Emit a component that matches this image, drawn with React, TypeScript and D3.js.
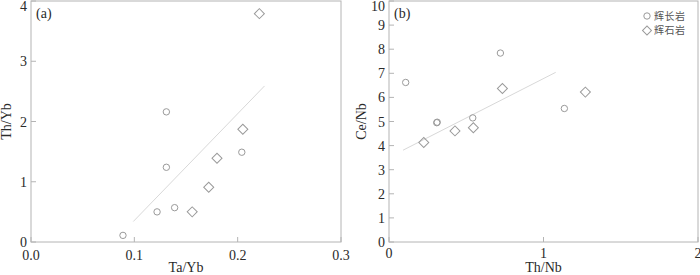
import React, { useEffect, useRef } from 'react';
import * as d3 from 'd3';

// panel (a): Th/Yb vs Ta/Yb
const gabbroA: [number, number][] = [
  [0.089, 0.11], [0.122, 0.5], [0.139, 0.57], [0.131, 1.24], [0.131, 2.16], [0.204, 1.49]
];
const pyroxeniteA: [number, number][] = [
  [0.156, 0.5], [0.172, 0.91], [0.18, 1.39], [0.205, 1.87], [0.221, 3.79]
];
const trendA: [number, number][] = [[0.099, 0.34], [0.226, 2.59]];
const xTicksA = [0, 0.1, 0.2, 0.3];
const yTicksA = [0, 1, 2, 3, 4];

// panel (b): Ce/Nb vs Th/Nb
const gabbroB: [number, number][] = [
  [0.108, 6.62], [0.309, 4.95], [0.312, 4.97], [0.542, 5.15], [0.721, 7.84], [1.135, 5.54]
];
const pyroxeniteB: [number, number][] = [
  [0.225, 4.13], [0.427, 4.61], [0.546, 4.74], [0.734, 6.37], [1.271, 6.22]
];
const trendB: [number, number][] = [[0.091, 3.81], [1.079, 7.04]];
const xTicksB = [0, 1, 2];
const yTicksB = [0, 1, 2, 3, 4, 5, 6, 7, 8, 9, 10];

const legendItems = [
  { label: '辉长岩', shape: 'circle' },
  { label: '辉石岩', shape: 'diamond' }
];

const FONT = '"Liberation Serif", "Times New Roman", serif';
const FRAME = '#b4b4b4';
const MARK = '#9a9a9a';
const TEXT = '#2a2a2a';

function drawPanel(svg: any, opt: any) {
  const { left, right, top, bottom, xDomain, yDomain, xTicks, yTicks, xFmt, xLabelDy, tag, xTitle, yTitle, yTitleX, circles, diamonds, trend } = opt;
  const x = d3.scaleLinear().domain(xDomain).range([left, right]);
  const y = d3.scaleLinear().domain(yDomain).range([bottom, top]);
  const g = svg.append('g');

  g.append('rect')
    .attr('x', left).attr('y', top)
    .attr('width', right - left).attr('height', bottom - top)
    .attr('fill', 'none').attr('stroke', FRAME).attr('stroke-width', 1);

  // inward ticks
  g.selectAll('.xt').data(xTicks).enter().append('line')
    .attr('x1', (d: number) => x(d)).attr('x2', (d: number) => x(d))
    .attr('y1', bottom).attr('y2', bottom - 5)
    .attr('stroke', FRAME);
  g.selectAll('.yt').data(yTicks).enter().append('line')
    .attr('x1', left).attr('x2', left + 5)
    .attr('y1', (d: number) => y(d)).attr('y2', (d: number) => y(d))
    .attr('stroke', FRAME);

  g.selectAll('.xl').data(xTicks).enter().append('text')
    .attr('x', (d: number) => x(d)).attr('y', bottom + xLabelDy)
    .attr('text-anchor', 'middle')
    .attr('font-family', FONT).attr('font-size', 14).attr('fill', TEXT)
    .text((d: number) => xFmt(d));
  // top label pushed down a little so it is not clipped
  g.selectAll('.yl').data(yTicks).enter().append('text')
    .attr('x', left - 4).attr('y', (d: number) => Math.max(y(d) + 5, 10.5))
    .attr('text-anchor', 'end')
    .attr('font-family', FONT).attr('font-size', 14).attr('fill', TEXT)
    .text((d: number) => String(d));

  g.append('text')
    .attr('x', (left + right) / 2).attr('y', 272)
    .attr('text-anchor', 'middle')
    .attr('font-family', FONT).attr('font-size', 14).attr('fill', TEXT)
    .text(xTitle);
  g.append('text')
    .attr('transform', `translate(${yTitleX},${(top + bottom) / 2}) rotate(-90)`)
    .attr('text-anchor', 'middle')
    .attr('font-family', FONT).attr('font-size', 14).attr('fill', TEXT)
    .text(yTitle);
  g.append('text')
    .attr('x', left + 5).attr('y', top + 17)
    .attr('font-family', FONT).attr('font-size', 14).attr('fill', TEXT)
    .text(tag);

  const line = d3.line<[number, number]>().x(d => x(d[0])).y(d => y(d[1]));
  g.append('path')
    .attr('d', line(trend))
    .attr('fill', 'none').attr('stroke', '#d8d8d8').attr('stroke-width', 1);

  g.selectAll('.c').data(circles).enter().append('circle')
    .attr('cx', (d: number[]) => x(d[0])).attr('cy', (d: number[]) => y(d[1]))
    .attr('r', 3.2)
    .attr('fill', 'none').attr('stroke', MARK).attr('stroke-width', 1);

  const diamond = d3.symbol().type(d3.symbolSquare).size(50);
  g.selectAll('.d').data(diamonds).enter().append('path')
    .attr('d', diamond)
    .attr('transform', (d: number[]) => `translate(${x(d[0])},${y(d[1])}) rotate(45)`)
    .attr('fill', 'none').attr('stroke', MARK).attr('stroke-width', 1);
}

export default function App() {
  const ref = useRef<SVGSVGElement>(null);

  useEffect(() => {
    const svg = d3.select(ref.current);
    svg.selectAll('*').remove();

    drawPanel(svg, {
      left: 31, right: 341, top: 1, bottom: 242,
      xDomain: [0, 0.3], yDomain: [0, 4],
      xTicks: xTicksA, yTicks: yTicksA, xFmt: d3.format('.1f'), xLabelDy: 18,
      tag: '(a)', xTitle: 'Ta/Yb', yTitle: 'Th/Yb', yTitleX: 11,
      circles: gabbroA, diamonds: pyroxeniteA, trend: trendA
    });

    drawPanel(svg, {
      left: 389, right: 698, top: 1, bottom: 242,
      xDomain: [0, 2], yDomain: [0, 10],
      xTicks: xTicksB, yTicks: yTicksB, xFmt: d3.format('d'), xLabelDy: 16,
      tag: '(b)', xTitle: 'Th/Nb', yTitle: 'Ce/Nb', yTitleX: 366,
      circles: gabbroB, diamonds: pyroxeniteB, trend: trendB
    });

    // legend
    const lg = svg.append('g');
    legendItems.forEach((item, i) => {
      const cy = 16 + i * 14.5;
      if (item.shape === 'circle') {
        lg.append('circle').attr('cx', 647).attr('cy', cy).attr('r', 3.2)
          .attr('fill', 'none').attr('stroke', MARK);
      } else {
        lg.append('path').attr('d', d3.symbol().type(d3.symbolSquare).size(40)())
          .attr('transform', `translate(647,${cy}) rotate(45)`)
          .attr('fill', 'none').attr('stroke', MARK);
      }
      lg.append('text').attr('x', 654).attr('y', cy + 3.8)
        .attr('font-family', '"Noto Sans CJK SC", sans-serif').attr('font-size', 10)
        .attr('letter-spacing', 0.5)
        .attr('fill', '#555').text(item.label);
    });
  }, []);

  return (
    <svg ref={ref} width={700} height={275}
      style={{ position: 'absolute', left: 0, top: 0, background: '#fff' }} />
  );
}
